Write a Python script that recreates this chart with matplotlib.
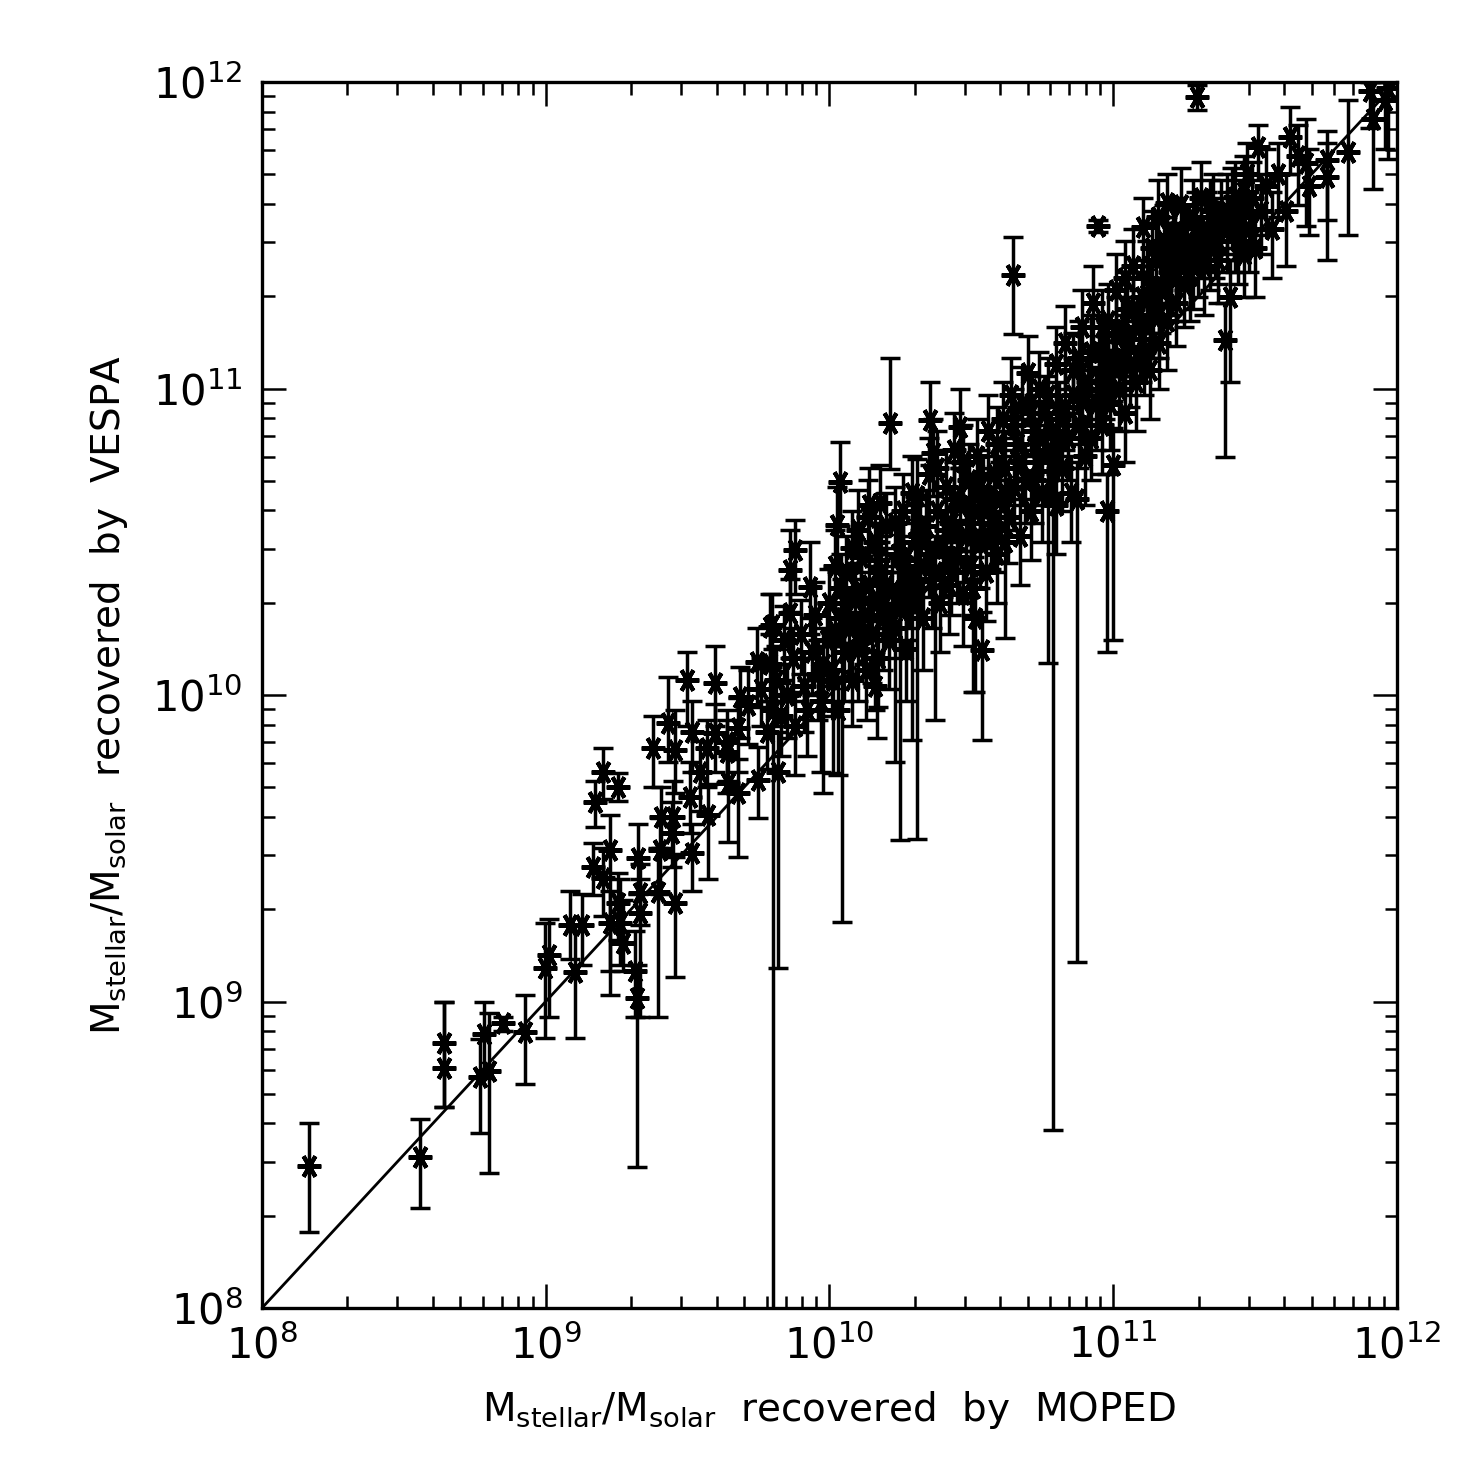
import matplotlib
matplotlib.use("Agg")
import matplotlib.pyplot as plt
from matplotlib.ticker import LogLocator, FixedLocator
import numpy as np

# log10 masses: (MOPED, VESPA, VESPA lower end, VESPA upper end)
# sparse low-mass points
low_moped = [8.165, 8.558, 8.640, 8.640, 8.768, 8.781, 8.799, 8.848, 8.928, 8.998, 9.010,
             9.085, 9.103, 9.127, 9.174, 9.203, 9.256, 9.168, 9.203, 9.226, 9.226, 9.262,
             9.273, 9.256, 9.326, 9.332, 9.332, 9.320, 9.315, 9.379, 9.403, 9.397, 9.408,
             9.432, 9.450, 9.444, 9.455, 9.455, 9.497, 9.514, 9.508, 9.514, 9.544, 9.567,
             9.573, 9.596, 9.596, 9.638, 9.638, 9.643, 9.679, 9.685, 9.679, 9.714, 9.743,
             9.749, 9.790, 9.801, 9.820, 10.037, 10.025, 10.100, 9.878, 9.861, 9.931, 9.861,
             9.796]
low_vespa = [8.463, 8.493, 8.865, 8.783, 8.754, 8.894, 8.773, 8.930, 8.900, 9.109, 9.152,
             9.250, 9.097, 9.250, 9.652, 9.750, 9.700, 9.440, 9.403, 9.494, 9.256, 9.256,
             9.190, 9.320, 9.468, 9.354, 9.289, 9.010, 9.100, 9.826, 9.494, 9.358, 9.603,
             9.909, 9.603, 9.549, 9.820, 9.320, 10.049, 9.880, 9.668, 9.484, 9.750, 9.826,
             9.609, 10.038, 9.876, 9.848, 9.815, 9.712, 9.891, 9.995, 9.679, 9.967, 10.109,
             9.723, 10.223, 9.950, 9.750, 10.696, 10.555, 10.540, 10.473, 10.408, 10.354, 10.267,
             10.228]
low_lo = [8.248, 8.325, 8.656, 8.656, 8.571, 8.750, 8.440, 8.905, 8.730, 8.880, 8.950,
          9.140, 8.880, 9.120, 9.570, 9.660, 9.655, 9.347, 9.280, 9.020, 9.100, 9.120,
          9.100, 9.200, 9.350, 9.250, 8.950, 8.460, 8.950, 9.700, 9.350, 8.950, 9.500,
          9.780, 9.480, 9.440, 9.680, 9.080, 9.900, 9.750, 9.550, 9.360, 9.620, 9.700,
          9.400, 9.900, 9.750, 9.720, 9.680, 9.520, 9.750, 9.860, 9.470, 9.840, 9.960,
          9.600, 10.080, 7.000, 9.110, 10.550, 10.400, 10.400, 10.330, 10.270, 10.200, 10.120,
          10.090]
low_hi = [8.604, 8.618, 9.000, 9.000, 8.878, 9.000, 8.964, 8.950, 9.020, 9.256, 9.270,
          9.360, 9.250, 9.350, 9.720, 9.826, 9.745, 9.516, 9.500, 9.610, 9.360, 9.400,
          9.330, 9.420, 9.580, 9.450, 9.400, 9.120, 9.230, 9.930, 9.600, 9.500, 9.700,
          10.060, 9.720, 9.650, 9.950, 9.470, 10.140, 9.980, 9.780, 9.580, 9.850, 9.920,
          9.710, 10.160, 9.970, 9.950, 9.920, 9.800, 9.990, 10.090, 9.790, 10.080, 10.220,
          9.830, 10.330, 10.150, 9.880, 10.826, 10.680, 10.670, 10.570, 10.540, 10.500, 10.380,
          10.330]

# dense band, 10^9.75 - 10^10.6
mid_moped = [9.76, 9.78, 9.79, 9.81, 9.83, 9.84, 9.85, 9.87, 9.88, 9.90, 9.91, 9.92, 9.94,
             9.95, 9.96, 9.97, 9.99, 10.00, 10.01, 10.02, 10.03, 10.04, 10.05, 9.976, 10.013,
             10.043, 10.06, 10.07, 10.08, 10.09, 10.10, 10.11, 10.12, 10.13, 10.14, 10.15,
             10.16, 10.16, 10.166, 10.17, 10.178, 10.18, 10.19, 10.20, 10.21, 10.213, 10.22,
             10.23, 10.24, 10.248, 10.25, 10.26, 10.27, 10.28, 10.29, 10.30, 10.137,
             10.307, 10.31, 10.32, 10.33, 10.34, 10.35, 10.354, 10.36, 10.366, 10.372, 10.38,
             10.39, 10.40, 10.41, 10.42, 10.43, 10.44, 10.45, 10.46, 10.46, 10.47, 10.48,
             10.49, 10.50, 10.506, 10.51, 10.513, 10.52, 10.53, 10.536, 10.54, 10.55, 10.56,
             10.57, 10.58, 10.59, 10.60]
mid_vespa = [10.02, 9.88, 10.10, 10.05, 9.93, 10.18, 10.00, 10.12, 9.90, 10.20, 10.03, 9.95,
             10.14, 10.26, 10.07, 9.98, 10.18, 10.30, 10.08, 10.21, 9.95, 10.35, 10.14, 10.10,
             10.05, 10.25, 10.40, 10.22, 10.05, 10.31, 10.15, 10.45, 10.26, 10.08, 10.36,
             10.20, 10.50, 10.03, 10.30, 10.12, 10.626, 10.40, 10.25, 10.55, 10.18, 10.886,
             10.34, 10.22, 10.46, 10.45, 10.28, 10.60, 10.15, 10.38, 10.30, 10.50, 10.58,
             10.35, 10.65, 10.42, 10.25, 10.55, 10.72, 10.897, 10.38, 10.788, 10.40, 10.60,
             10.30, 10.48, 10.68, 10.36, 10.56, 10.80, 10.45, 10.876, 10.62, 10.33, 10.52,
             10.70, 10.42, 10.35, 10.60, 10.25, 10.78, 10.50, 10.147, 10.66, 10.40, 10.86,
             10.56, 10.72, 10.46, 10.64]
mid_lo = [9.90, 9.76, 9.98, 9.90, 9.80, 10.05, 9.86, 9.98, 9.74, 10.07, 9.88, 9.80, 10.00,
          10.12, 9.92, 9.75, 10.03, 10.16, 9.93, 10.06, 9.74, 10.20, 9.98, 9.68, 9.745,
          9.26, 10.26, 10.06, 9.90, 10.17, 9.98, 10.30, 10.10, 9.92, 10.22, 10.04, 10.36,
          9.95, 9.86, 9.96, 10.50, 10.25, 10.08, 10.40, 10.02, 10.736, 10.18, 9.78, 10.32,
          9.527, 10.12, 10.45, 9.98, 10.22, 9.853, 10.35, 10.44,
          9.53, 10.50, 10.27, 10.08, 10.40, 10.58, 10.75, 10.22, 10.65, 9.92, 10.45, 10.14,
          10.32, 10.54, 10.20, 10.41, 10.66, 10.30, 10.74, 10.47, 10.16, 10.37, 10.56, 10.26,
          10.01, 10.45, 10.01, 10.64, 10.35, 9.853, 10.52, 10.24, 10.72, 10.41, 10.58, 10.30,
          10.50]
mid_hi = [10.12, 9.98, 10.20, 10.16, 10.04, 10.29, 10.10, 10.22, 10.01, 10.31, 10.14, 10.05,
          10.25, 10.37, 10.18, 10.08, 10.30, 10.41, 10.20, 10.32, 10.06, 10.46, 10.25, 10.22,
          10.18, 10.38, 10.52, 10.34, 10.17, 10.43, 10.27, 10.56, 10.38, 10.20, 10.48, 10.32,
          10.62, 10.14, 10.42, 10.24, 10.75, 10.52, 10.37, 10.66, 10.30, 11.10, 10.46, 10.35,
          10.58, 10.58, 10.40, 10.72, 10.27, 10.50, 10.42, 10.62, 10.70,
          10.48, 10.77, 10.54, 10.37, 10.67, 10.84, 11.02, 10.50, 10.90, 10.52, 10.72, 10.42,
          10.60, 10.80, 10.48, 10.68, 10.92, 10.57, 11.00, 10.74, 10.45, 10.64, 10.82, 10.54,
          10.47, 10.72, 10.38, 10.90, 10.62, 10.27, 10.78, 10.52, 10.98, 10.68, 10.84, 10.58,
          10.76]

# dense band, 10^10.6 - 10^12
high_moped = [10.61, 10.618, 10.62, 10.63, 10.64, 10.647, 10.65, 10.66, 10.67, 10.68, 10.69,
              10.70, 10.71, 10.72, 10.73, 10.74, 10.75, 10.76, 10.77, 10.78, 10.789, 10.80,
              10.80, 10.81, 10.82, 10.83, 10.84, 10.85, 10.86, 10.871, 10.88, 10.89, 10.90,
              10.91, 10.92, 10.93, 10.94, 10.946, 10.95, 10.96, 10.97, 10.977, 10.98, 10.99,
              10.999, 11.00, 11.01, 11.02, 11.03, 11.04, 11.05, 11.06, 11.07, 11.08, 11.09,
              11.10, 11.105, 11.11, 11.12, 11.13, 11.135, 11.14, 11.15, 11.158, 11.16, 11.17,
              11.18, 11.188, 11.19, 11.20,
              11.21, 11.218, 11.22, 11.23, 11.24, 11.25, 11.26, 11.27, 11.28, 11.29, 11.295,
              11.30, 11.31, 11.32, 11.33, 11.34, 11.35, 11.36, 11.37, 11.38, 11.394, 11.40,
              11.41, 11.42, 11.43, 11.44, 11.45, 11.46, 11.47, 11.48, 11.49, 11.50,
              11.51, 11.52, 11.54, 11.56, 11.58, 11.61, 11.623, 11.65, 11.68, 11.69, 11.752,
              11.752, 11.829, 11.905, 11.916, 11.958, 11.97]
high_vespa = [10.90, 10.50, 10.74, 10.58, 10.98, 11.37, 10.68, 10.82, 10.52, 10.95, 10.70,
              11.05, 10.60, 10.86, 10.76, 11.00, 10.66, 10.92, 10.65, 10.80, 10.73, 11.08,
              10.62, 10.90, 10.74, 11.15, 10.84, 10.66, 10.98, 10.64, 10.88, 11.20, 10.78,
              11.02, 10.84, 11.28, 10.95, 11.53, 11.12, 10.88, 11.05, 10.60, 11.22, 10.95,
              10.75, 11.10, 11.32, 11.00, 11.18, 10.92, 11.26, 11.08, 11.40, 11.02, 11.20,
              11.30, 11.528, 11.12, 11.36, 11.06, 11.46, 11.24, 11.42, 11.56, 11.15, 11.32,
              11.48, 11.604, 11.22, 11.38,
              11.50, 11.51, 11.28, 11.42, 11.60, 11.34, 11.48, 11.38, 11.56, 11.53, 11.951,
              11.44, 11.62, 11.40, 11.52, 11.46, 11.58, 11.50, 11.42, 11.56, 11.158, 11.52,
              11.30, 11.60, 11.626, 11.48, 11.56, 11.44, 11.70, 11.52, 11.62, 11.46,
              11.789, 11.58, 11.66, 11.52, 11.70, 11.58, 11.82, 11.76, 11.735, 11.66, 11.746,
              11.69, 11.773, 11.97, 11.88, 11.94, 11.98]
high_lo = [10.76, 10.186, 10.60, 10.43, 10.84, 11.178, 10.54, 10.68, 10.36, 10.80, 10.56,
           10.90, 10.44, 10.72, 10.62, 10.86, 10.50, 10.78, 10.104, 10.66, 8.58, 10.94,
           10.46, 10.76, 10.60, 11.00, 10.70, 10.50, 10.84, 9.13, 10.74, 11.06, 10.62,
           10.88, 10.70, 11.14, 10.80, 11.51, 10.98, 10.72, 10.90, 10.14, 11.08, 10.80,
           10.18, 10.96, 11.18, 10.86, 11.04, 10.76, 11.12, 10.94, 11.26, 10.86, 11.06,
           11.16, 11.40, 10.98, 11.22, 10.90, 11.34, 11.10, 11.28, 11.44, 11.00, 11.18,
           11.34, 11.48, 11.06, 11.24,
           11.36, 11.40, 11.14, 11.28, 11.46, 11.20, 11.34, 11.22, 11.42, 11.40, 11.91,
           11.30, 11.48, 11.24, 11.38, 11.32, 11.44, 11.36, 11.28, 11.42, 10.778, 11.38,
           11.02, 11.46, 11.50, 11.34, 11.42, 11.30, 11.56, 11.38, 11.48, 11.30,
           11.68, 11.44, 11.50, 11.36, 11.56, 11.40, 11.70, 11.60, 11.53, 11.50, 11.42,
           11.55, 11.50, 11.85, 11.65, 11.78, 11.75]
high_hi = [11.02, 10.62, 10.86, 10.70, 11.10, 11.494, 10.80, 10.94, 10.64, 11.07, 10.82,
           11.17, 10.72, 10.98, 10.88, 11.12, 10.78, 11.04, 10.78, 10.92, 10.86, 11.20,
           10.74, 11.02, 10.86, 11.27, 10.96, 10.78, 11.10, 10.76, 11.00, 11.32, 10.90,
           11.14, 10.96, 11.40, 11.07, 11.55, 11.24, 11.00, 11.17, 10.72, 11.34, 11.07,
           10.87, 11.22, 11.44, 11.12, 11.30, 11.04, 11.38, 11.20, 11.52, 11.14, 11.32,
           11.42, 11.62, 11.24, 11.48, 11.18, 11.58, 11.36, 11.54, 11.68, 11.27, 11.44,
           11.60, 11.70, 11.34, 11.50,
           11.62, 11.62, 11.40, 11.54, 11.72, 11.46, 11.60, 11.50, 11.68, 11.64, 11.99,
           11.56, 11.74, 11.52, 11.64, 11.58, 11.70, 11.62, 11.54, 11.68, 11.28, 11.64,
           11.42, 11.72, 11.74, 11.60, 11.68, 11.56, 11.80, 11.64, 11.74, 11.58,
           11.86, 11.70, 11.78, 11.64, 11.80, 11.70, 11.92, 11.86, 11.88, 11.78, 11.84,
           11.80, 11.94, 12.00, 12.00, 12.00, 12.05]

# extra points filling the crowded core of the band
core_moped = [10.02, 10.05, 10.08, 10.11, 10.14, 10.17, 10.20, 10.23, 10.26, 10.29, 10.32,
              10.35, 10.38, 10.41, 10.44, 10.47, 10.50, 10.53, 10.56, 10.59, 10.62, 10.65,
              10.68, 10.71, 10.74, 10.77, 10.80, 10.83, 10.86, 10.89, 10.92, 10.95, 10.98,
              11.01, 11.04, 11.07, 11.10, 11.13, 11.16, 11.19, 11.22, 11.25, 11.28, 11.31,
              11.34, 11.37, 11.40, 11.43, 11.46, 11.04, 10.96, 10.88, 10.72, 10.58, 10.43,
              10.27, 10.12]
core_vespa = [10.42, 10.30, 10.48, 10.34, 10.62, 10.44, 10.36, 10.56, 10.44, 10.66, 10.52,
              10.46, 10.74, 10.54, 10.64, 10.76, 10.56, 10.68, 10.62, 10.82, 10.66, 10.88,
              10.76, 10.92, 10.84, 10.98, 10.86, 10.94, 11.06, 10.96, 11.12, 11.00, 11.10,
              11.18, 11.12, 11.26, 11.16, 11.30, 11.24, 11.44, 11.36, 11.46, 11.40, 11.50,
              11.56, 11.48, 11.58, 11.52, 11.64, 11.36, 11.20, 11.10, 10.70, 10.54, 10.40,
              10.32, 10.20]
core_lo = [10.28, 10.16, 10.34, 10.20, 10.48, 10.30, 10.22, 10.42, 10.30, 10.52, 10.38,
           10.32, 10.60, 10.40, 10.50, 10.62, 10.42, 10.54, 10.48, 10.68, 10.52, 10.74,
           10.62, 10.78, 10.70, 10.84, 10.72, 10.80, 10.92, 10.82, 10.98, 10.86, 10.96,
           11.04, 10.98, 11.12, 11.02, 11.16, 11.10, 11.30, 11.22, 11.32, 11.26, 11.36,
           11.42, 11.34, 11.44, 11.38, 11.50, 11.22, 11.06, 10.96, 10.56, 10.40, 10.26,
           10.18, 10.06]
core_hi = [10.54, 10.42, 10.60, 10.46, 10.74, 10.56, 10.48, 10.68, 10.56, 10.78, 10.64,
           10.58, 10.86, 10.66, 10.76, 10.88, 10.68, 10.80, 10.74, 10.94, 10.78, 11.00,
           10.88, 11.04, 10.96, 11.10, 10.98, 11.06, 11.18, 11.08, 11.24, 11.12, 11.22,
           11.30, 11.24, 11.38, 11.28, 11.42, 11.36, 11.56, 11.48, 11.58, 11.52, 11.62,
           11.68, 11.60, 11.70, 11.64, 11.76, 11.48, 11.32, 11.22, 10.82, 10.66, 10.52,
           10.44, 10.32]

moped = np.array(low_moped + mid_moped + high_moped + core_moped)
vespa = np.array(low_vespa + mid_vespa + high_vespa + core_vespa)
v_lo = np.array(low_lo + mid_lo + high_lo + core_lo)
v_hi = np.array(low_hi + mid_hi + high_hi + core_hi)

x = 10 ** moped
y = 10 ** vespa
yerr = [y - 10 ** v_lo, 10 ** v_hi - y]

plt.rcParams['font.family'] = ['DejaVu Sans']
plt.rcParams['mathtext.default'] = 'regular'

fig = plt.figure(figsize=(14.75, 14.75), dpi=100)
ax = fig.add_axes([0.1776, 0.1132, 0.7695, 0.8312])

ax.errorbar(x, y, yerr=yerr, fmt='none', ecolor='black', elinewidth=2.5,
            capsize=7, capthick=2.5)
ax.plot(x, y, linestyle='none', marker=(6, 2, 90), markersize=17,
        markeredgewidth=3.0, color='black')
ax.plot([1e8, 1e12], [1e8, 1e12], color='black', linewidth=2.0)

ax.set_xscale('log')
ax.set_yscale('log')
ax.set_xlim(1e8, 1e12)
ax.set_ylim(1e8, 1e12)

decades = [1e8, 1e9, 1e10, 1e11, 1e12]
for axis in (ax.xaxis, ax.yaxis):
    axis.set_major_locator(FixedLocator(decades))
    axis.set_minor_locator(LogLocator(base=10, subs=np.arange(2, 10), numticks=20))

ax.set_xticklabels([r'$10^{%d}$' % int(np.log10(d)) for d in decades])
ax.set_yticklabels([r'$10^{%d}$' % int(np.log10(d)) for d in decades])

ax.tick_params(which='both', direction='in', top=True, right=True, colors='black')
ax.tick_params(which='major', length=17, width=1.8, labelsize=30)
ax.tick_params(axis='x', which='major', pad=12)
ax.tick_params(axis='y', which='major', pad=14)
ax.tick_params(which='minor', length=9, width=1.8)
for s in ax.spines.values():
    s.set_linewidth(2.4)

ax.set_xlabel(r'M$_{stellar}$/M$_{solar}$  recovered  by  MOPED', fontsize=28, labelpad=16)
ax.set_ylabel(r'M$_{stellar}$/M$_{solar}$  recovered  by  VESPA', fontsize=28, labelpad=16)

fig.savefig('out.png', dpi=100, facecolor='white')
